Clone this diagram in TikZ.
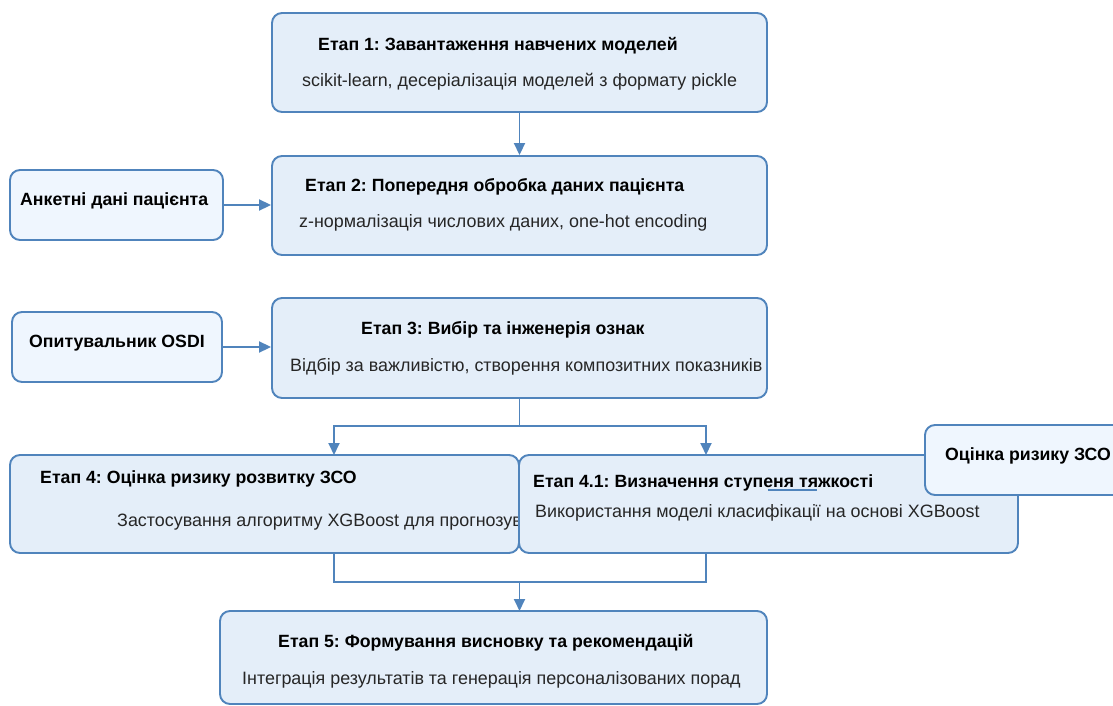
\documentclass[tikz,border=0pt]{standalone}
\usepackage{fontspec}
\setmainfont{Liberation Sans}
\frenchspacing
\usetikzlibrary{arrows.meta}

\definecolor{boxline}{RGB}{80,132,188}
\definecolor{stagefill}{RGB}{228,238,249}
\definecolor{infill}{RGB}{239,246,254}

\tikzset{
  stagebox/.style={draw=boxline, fill=stagefill, line width=1.9pt, rounded corners=10pt, inner sep=0pt},
  inbox/.style={draw=boxline, fill=infill, line width=1.9pt, rounded corners=10pt, inner sep=0pt},
  ttl/.style={anchor=base west, inner sep=0pt, font=\fontsize{17.7}{20}\selectfont\bfseries},
  sub/.style={anchor=base west, inner sep=0pt, font=\fontsize{17.9}{20}\selectfont, text=black!85},
  wire/.style={draw=boxline, line width=1.9pt},
  arr/.style={wire, -{Triangle[length=12pt,width=11pt]}}
}

\begin{document}
\begin{tikzpicture}[x=1pt, y=-1pt]
  \useasboundingbox (0,0) rectangle (1113,706);
  \clip (0,0) rectangle (1113,706);

  % main stages
  \node (s1) [stagebox, minimum width=495pt, minimum height=99pt] at (519.5,62.5) {};
  \node (s1t) [ttl] at (318,51) {Етап 1: Завантаження навчених моделей};
  \node (s1s) [sub] at (302,87) {scikit-learn, десеріалізація моделей з формату pickle};

  \node (s2) [stagebox, minimum width=495pt, minimum height=99pt] at (519.5,205.5) {};
  \node (s2t) [ttl] at (305,191) {Етап 2: Попередня обробка даних пацієнта};
  \node (s2s) [sub] at (299,227) {z-нормалізація числових даних, one-hot encoding};

  \node (s3) [stagebox, minimum width=495pt, minimum height=100pt] at (519.5,348) {};
  \node (s3t) [ttl] at (361,334) {Етап 3: Вибір та інженерія ознак};
  \node (s3s) [sub] at (290,371) {Відбір за важливістю, створення композитних показників};

  % inputs
  \node (in1) [inbox, minimum width=213pt, minimum height=70pt] at (116.5,205) {};
  \node (in1t) [ttl] at (20,205) {Анкетні дані пацієнта};
  \node (in2) [inbox, minimum width=210pt, minimum height=70pt] at (117,347) {};
  \node (in2t) [ttl] at (29,347) {Опитувальник OSDI};

  % stage 4 and 4.1
  \node (s4) [stagebox, minimum width=509pt, minimum height=98pt] at (264.5,504) {};
  \node (s4t) [ttl] at (40,483) {Етап 4: Оцінка ризику розвитку ЗСО};
  \node (s4s) [sub] at (117,526) {Застосування алгоритму XGBoost для прогнозування};

  \node (s41) [stagebox, minimum width=499pt, minimum height=98pt] at (768.5,504) {};
  \node (s41t) [ttl] at (533,487) {Етап 4.1: Визначення ступеня тяжкості};
  \node (s41s) [sub] at (535,517) {Використання моделі класифікації на основі XGBoost};
  \coordinate (ul1) at (768,490);
  \coordinate (ul2) at (817,490);
  \draw[boxline, line width=1.2pt] (ul1) -- (ul2);

  \node (risk) [inbox, minimum width=220pt, minimum height=70pt] at (1035,460) {};
  \node (riskt) [ttl] at (945,460) {Оцінка ризику ЗСО};

  % stage 5
  \node (s5) [stagebox, minimum width=547pt, minimum height=93pt] at (493.5,657.5) {};
  \node (s5t) [ttl] at (278,647) {Етап 5: Формування висновку та рекомендацій};
  \node (s5s) [sub] at (242,684) {Інтеграція результатів та генерація персоналізованих порад};

  % connectors
  \coordinate (split) at (519.5,426);
  \coordinate (s4in) at (334,455);
  \coordinate (s41in) at (706,455);
  \coordinate (s4out) at (334,553);
  \coordinate (s41out) at (706,553);
  \coordinate (merge) at (519.5,582);
  \coordinate (s5in) at (519.5,611);

  \draw[arr] (s1.south) -- (s2.north);
  \draw[arr] (in1.east) -- (in1.east -| s2.west);
  \draw[arr] (in2.east) -- (in2.east -| s3.west);
  \draw[wire] (s3.south) -- (split);
  \draw[arr] (split) -| (s4in);
  \draw[arr] (split) -| (s41in);
  \draw[wire] (s4out) |- (merge) -| (s41out);
  \draw[arr] (merge) -- (s5in);
\end{tikzpicture}
\end{document}
